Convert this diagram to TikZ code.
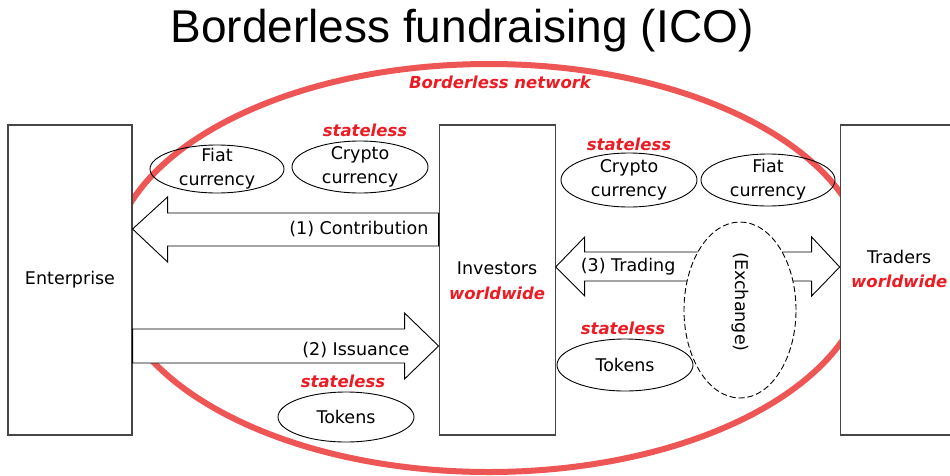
\documentclass[tikz,border=0pt]{standalone}
\usepackage{fontspec}
\setmainfont{DejaVu Sans}[BoldFont={DejaVu Sans Bold}, ItalicFont={DejaVu Sans Oblique}, BoldItalicFont={DejaVu Sans Bold Oblique}]
\newfontfamily\titlefont{Liberation Sans}
\usetikzlibrary{shapes.geometric, positioning, calc}
\definecolor{netred}{RGB}{238, 85, 85}
\definecolor{tagred}{RGB}{236, 28, 36}
\definecolor{boxgray}{RGB}{70, 70, 70}
\newcommand{\lblfont}{\fontsize{17.5}{24}\selectfont}
\newcommand{\tagfont}{\fontsize{16.5}{20}\selectfont\bfseries\itshape}
\tikzstyle{party} = [rectangle, minimum width=116pt, minimum height=310pt, draw=boxgray, line width=1.1pt, fill=white, inner sep=0pt]
\tikzstyle{asset} = [ellipse, draw=black, line width=0.9pt, minimum width=136pt, minimum height=51pt, inner sep=0pt]
\tikzstyle{plain} = [font=\lblfont, inner sep=0pt, align=center]
\tikzstyle{tag} = [font=\tagfont, text=tagred, inner sep=0pt]
\tikzstyle{flow} = [draw=black, fill=white, line width=0.9pt, line join=miter]
\begin{document}
\begin{tikzpicture}[x=1pt, y=-1pt]
\useasboundingbox (0,0) rectangle (950,475);

% Title
\node (title) at (462,31) {\titlefont\fontsize{46}{50}\selectfont Borderless fundraising (ICO)};

% Borderless network
\draw [netred, line width=6pt] (489,268) ellipse [x radius=378pt, y radius=204pt];
\node (net) [tag] at (500,82) {Borderless network};

% Parties
\node (ent) [party, minimum width=124pt] at (70,280) {};
\node (inv) [party, right=306pt of ent] {};
\node (trd) [party, minimum width=118pt, right=284pt of inv] {};
\node (entname) [plain] at (ent) {Enterprise};
\node (invname) [plain] at ($(inv)+(0,-12)$) {Investors};
\node (invtag) [tag] at ($(inv)+(0,13)$) {worldwide};
\node (trdname) [plain] at ($(trd)+(0,-23)$) {Traders};
\node (trdtag) [tag] at ($(trd)+(0,1)$) {worldwide};

% (1) Contribution
\draw [flow] (inv.west |- 0,213) -- ($(ent.east |- 0,213)+(35,0)$) -- ($(ent.east |- 0,197)+(35,0)$) -- (ent.east |- 0,229) -- ($(ent.east |- 0,262)+(35,0)$) -- ($(ent.east |- 0,246)+(35,0)$) -- (inv.west |- 0,246) -- cycle;
\node (contrib) [plain, anchor=east] at ($(inv.west |- 0,229)+(-10,0)$) {(1) Contribution};

% (2) Issuance
\draw [flow] (ent.east |- 0,329) -- ($(inv.west |- 0,329)+(-34,0)$) -- ($(inv.west |- 0,313)+(-34,0)$) -- (inv.west |- 0,346) -- ($(inv.west |- 0,379)+(-34,0)$) -- ($(inv.west |- 0,363)+(-34,0)$) -- (ent.east |- 0,363) -- cycle;
\node (issue) [plain, anchor=east] at ($(inv.west |- 0,350)+(-29,0)$) {(2) Issuance};

% (3) Trading
\draw [flow] (inv.east |- 0,267) -- ($(inv.east |- 0,237)+(29,0)$) -- ($(inv.east |- 0,252)+(29,0)$) -- ($(trd.west |- 0,252)+(-28,0)$) -- ($(trd.west |- 0,237)+(-28,0)$) -- (trd.west |- 0,267) -- ($(trd.west |- 0,296)+(-28,0)$) -- ($(trd.west |- 0,281)+(-28,0)$) -- ($(inv.east |- 0,281)+(29,0)$) -- ($(inv.east |- 0,296)+(29,0)$) -- cycle;
\node (trade) [plain, anchor=west] at ($(inv.east |- 0,267)+(25,0)$) {(3) Trading};

% Exchange
\node (exch) [asset, dashed, dash pattern=on 6pt off 3pt, fill=white, minimum width=112pt, minimum height=176pt] at (740,310) {};
\node (exchname) [plain, rotate=-90] at ($(exch)+(0,-8)$) {(Exchange)};

% Currencies and tokens
\node (fiatL) [asset, minimum width=134pt, minimum height=48pt] at (217,169) {};
\node (cryptoL) [asset, minimum height=52pt] at (360,167) {};
\node (cryptoR) [asset, minimum height=54pt] at (629,180) {};
\node (fiatR) [asset, minimum width=134pt, minimum height=52pt] at (768,180) {};
\node (tokR) [asset, minimum height=52pt] at (625,365) {};
\node (tokL) [asset, minimum height=50pt] at (346,417) {};
\node (fiatLtxt) [plain] at (fiatL) {Fiat\\currency};
\node (cryptoLtxt) [plain] at (cryptoL) {Crypto\\currency};
\node (cryptoRtxt) [plain] at (cryptoR) {Crypto\\currency};
\node (fiatRtxt) [plain] at (fiatR) {Fiat\\currency};
\node (tokRtxt) [plain] at (tokR) {Tokens};
\node (tokLtxt) [plain] at (tokL) {Tokens};

% stateless tags
\node (tagL) [tag, above=4pt of cryptoL, xshift=5pt] {stateless};
\node (tagR) [tag, above=2pt of cryptoR] {stateless};
\node (tagT) [tag, above=4pt of tokR, xshift=-2pt] {stateless};
\node (tagB) [tag, above=4pt of tokL, xshift=-3pt] {stateless};

\end{tikzpicture}
\end{document}
